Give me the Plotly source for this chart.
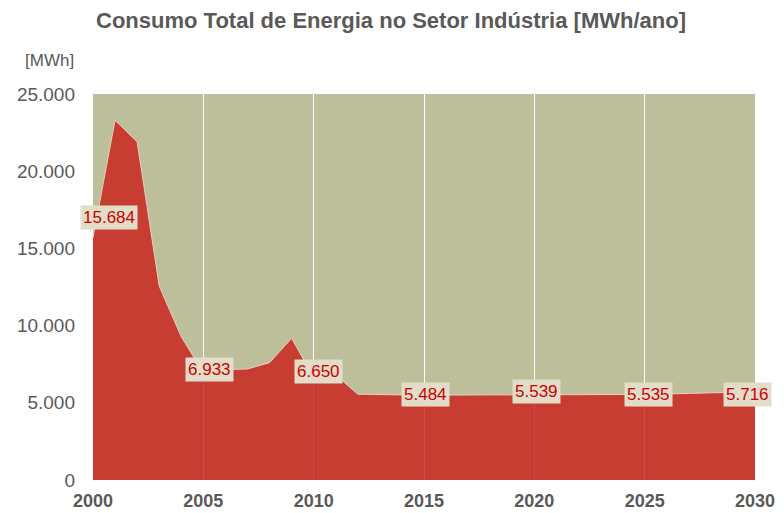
import plotly.graph_objects as go

years = list(range(2000, 2031))
consumo = [15684, 23300, 21900, 12560, 9280, 6933, 7150, 7190, 7600, 9180,
           6650, 6800, 5560, 5530, 5500, 5484, 5500, 5510, 5520, 5530,
           5539, 5540, 5540, 5540, 5538, 5535, 5570, 5610, 5650, 5690, 5716]

label_years = [2000, 2005, 2010, 2015, 2020, 2025, 2030]
label_text = ["15.684", "6.933", "6.650", "5.484", "5.539", "5.535", "5.716"]
label_dx = [16, 6, 5, 1, 2, 4, -8]
label_dy = [20, 3, 6, 1, 3, 0, -3]

title = "Consumo Total de Energia no Setor Indústria [MWh/ano]"
unit = "[MWh]"

FONT = "Liberation Sans, Arial"

fig = go.Figure()
fig.add_trace(go.Scatter(
    x=years, y=consumo, mode="lines", fill="tozeroy",
    fillcolor="rgba(202,39,32,0.85)",
    line=dict(color="rgba(235,215,200,0.9)", width=1),
    hoverinfo="skip", showlegend=False,
))

for yr, txt, dx, dy in zip(label_years, label_text, label_dx, label_dy):
    fig.add_annotation(
        x=yr, y=consumo[years.index(yr)], xref="x", yref="y",
        text=txt, showarrow=False, xshift=dx, yshift=dy,
        font=dict(family=FONT, size=17, color="#CC0000"),
        bgcolor="#E2DDC9", borderpad=2,
    )

fig.add_annotation(
    x=-0.1057, y=1.088, xref="paper", yref="paper", text=unit, showarrow=False,
    xanchor="left", yanchor="middle",
    font=dict(family=FONT, size=17, color="#595959"),
)

fig.update_layout(
    width=776, height=505,
    margin=dict(l=85, r=29, t=86, b=33, autoexpand=False),
    paper_bgcolor="white",
    plot_bgcolor="#BDBE9A",
    separators=",.",
    title=dict(text="<b>" + title + "</b>", x=383 / 776, xanchor="center",
               y=1 - 12 / 505, yanchor="middle",
               font=dict(family=FONT, size=22, color="#595959")),
    font=dict(family=FONT, color="#595959"),
    xaxis=dict(range=[2000, 2030], dtick=5, tick0=2000, showgrid=True,
               gridcolor="white", gridwidth=1, zeroline=False, automargin=False,
               showline=False, ticks="", ticklabelstandoff=8,
               tickfont=dict(size=18, color="#595959", family=FONT),
               tickprefix="<b>", ticksuffix="</b>", tickformat="d"),
    yaxis=dict(range=[0, 25000], dtick=5000, showgrid=False, zeroline=False,
               automargin=False,
               showline=False, ticks="", tickformat=",.0f", ticklabelstandoff=17,
               tickfont=dict(size=19, color="#595959", family=FONT)),
)

fig.write_html("out.html")
